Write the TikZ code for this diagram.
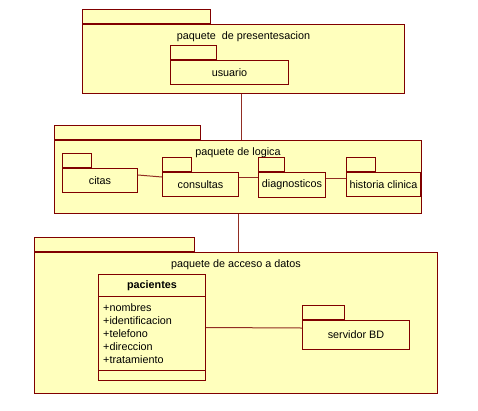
\documentclass[tikz,border=0pt]{standalone}
\usepackage{fontspec}
\setmainfont{Liberation Sans}
\usetikzlibrary{positioning}
\definecolor{pkgfill}{RGB}{255,255,189}
\definecolor{pkgline}{RGB}{128,0,0}
\definecolor{linkline}{RGB}{145,45,35}
\tikzset{
    pkgbody/.style={
        rectangle, draw=pkgline, line width=1pt, fill=pkgfill,
        inner sep=0pt, anchor=north west, text centered,
        font=\fontsize{10.8}{13}\selectfont
    },
    pkgtab/.style={pkgbody, anchor=south west, minimum height=14pt},
    pkgtitle/.style={anchor=base, inner sep=0pt, font=\fontsize{10.8}{13}\selectfont},
    classbox/.style={pkgbody},
    attrlist/.style={anchor=north west, inner sep=0pt, align=left, font=\fontsize{10.8}{13}\selectfont},
    link/.style={draw=linkline, line width=1pt}
}

\begin{document}
\begin{tikzpicture}[x=1pt, y=-1pt]
\useasboundingbox (0,0) rectangle (478,410);

% Outer packages
\node[pkgbody, minimum width=322pt, minimum height=69pt] (presbody) at (82,24) {};
\node[pkgtab, minimum width=128pt] (prestab) at (presbody.north west) {};
\node[pkgtitle] (prestitle) at ([yshift=-15.5pt]presbody.north) {paquete\ \ de presentesacion};

\node[pkgbody, minimum width=367pt, minimum height=73pt] (logbody) at (54,140) {};
\node[pkgtab, minimum width=146pt] (logtab) at (logbody.north west) {};
\node[pkgtitle] (logtitle) at ([yshift=-15.5pt]logbody.north) {paquete de logica};

\node[pkgbody, minimum width=403pt, minimum height=141pt] (accbody) at (34,252) {};
\node[pkgtab, minimum width=160pt] (acctab) at (accbody.north west) {};
\node[pkgtitle] (acctitle) at ([yshift=-15.5pt]accbody.north) {paquete de acceso a datos};

% Inner packages
\node[pkgbody, minimum width=118pt, minimum height=24pt] (usuario) at (170,60) {usuario};
\node[pkgtab, minimum width=46pt] (usuariotab) at (usuario.north west) {};

\node[pkgbody, minimum width=75pt, minimum height=24pt] (citas) at (62,168) {citas};
\node[pkgtab, minimum width=29pt] (citastab) at (citas.north west) {};
\node[pkgbody, minimum width=76pt, minimum height=24pt] (consultas) at (162,172) {consultas};
\node[pkgtab, minimum width=29pt] (consultastab) at (consultas.north west) {};
\node[pkgbody, minimum width=67pt, minimum height=25pt] (diag) at (258,172) {diagnosticos};
\node[pkgtab, minimum width=26pt] (diagtab) at (diag.north west) {};
\node[pkgbody, minimum width=74pt, minimum height=24pt] (historia) at (346,172) {historia clinica};
\node[pkgtab, minimum width=29pt] (historiatab) at (historia.north west) {};

\node[pkgbody, minimum width=107pt, minimum height=29pt] (servidor) at (302,320) {servidor BD};
\node[pkgtab, minimum width=42pt] (servidortab) at (servidor.north west) {};

% Class
\node[classbox, minimum width=107pt, minimum height=106pt] (pacientes) at (98,274) {};
\node[pkgtitle, font=\fontsize{10.8}{13}\selectfont\bfseries] (pacname) at ([yshift=-14.5pt]pacientes.north) {pacientes};
\draw[draw=pkgline, line width=1pt] ([yshift=-22pt]pacientes.north west) -- ([yshift=-22pt]pacientes.north east);
\draw[draw=pkgline, line width=1pt] ([yshift=-96pt]pacientes.north west) -- ([yshift=-96pt]pacientes.north east);
\node[attrlist] (pacattr) at ([xshift=5pt, yshift=-29pt]pacientes.north west)
    {+nombres\\+identificacion\\+telefono\\+direccion\\+tratamiento};

% Connectors
\draw[link] ([xshift=-2pt]presbody.south) -- ([xshift=-2pt]presbody.south |- logbody.north);
\draw[link] (logbody.south) -- (logbody.south |- accbody.north);
\draw[link] ([yshift=-7pt]citas.north east) -- ([yshift=-5pt]consultas.north west);
\draw[link] ([yshift=-5pt]consultas.north east) -- ([yshift=-5pt]diag.north west);
\draw[link] ([yshift=-6pt]diag.north east) -- ([yshift=-6pt]historia.north west);
\draw[link] (pacientes.east) -- ([yshift=-8pt]servidor.north west);

\end{tikzpicture}
\end{document}
